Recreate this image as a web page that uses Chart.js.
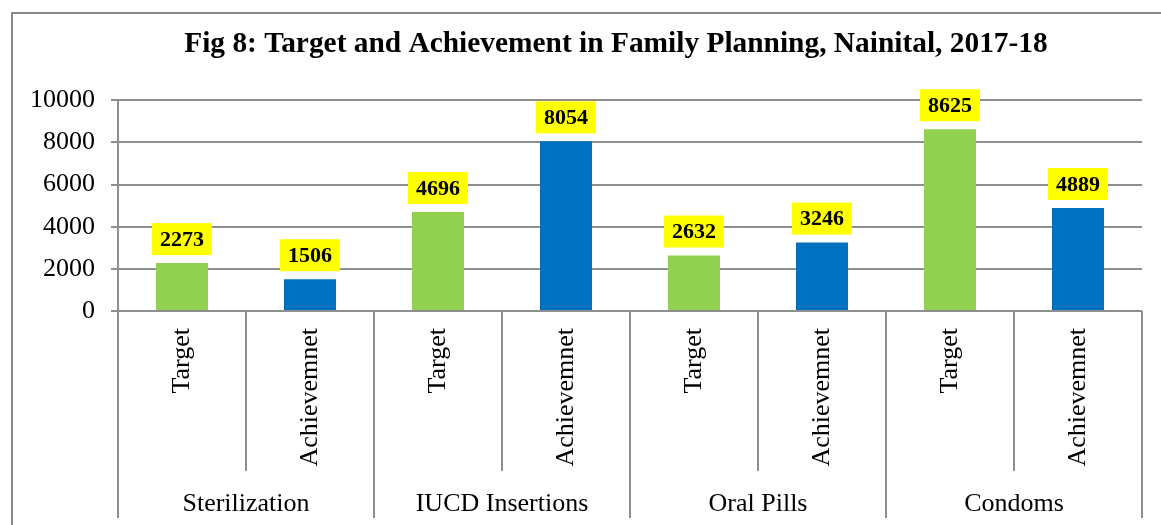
<!DOCTYPE html>
<html><head><meta charset="utf-8">
<script src="https://cdn.jsdelivr.net/npm/chart.js@4"></script>
<style>html,body{margin:0;padding:0;background:#fff;overflow:hidden}canvas{display:block}</style>
</head><body>
<canvas id="c" width="1161" height="525"></canvas>
<script>
const groups = ['Sterilization', 'IUCD Insertions', 'Oral Pills', 'Condoms'];
const subLabels = ['Target', 'Achievemnet'];
const targetValues = [2273, 4696, 2632, 8625];
const achievementValues = [1506, 8054, 3246, 4889];
const yTicks = [0, 2000, 4000, 6000, 8000, 10000];
const titleText = 'Fig 8: Target and Achievement in Family Planning, Nainital, 2017-18';

const GREEN = '#92D050', BLUE = '#0070C0', GRID = '#8e8e8e';
const FONT = "'Liberation Serif', 'Times New Roman', serif";

const labels = [], values = [], colors = [], subOf = [], groupOf = [];
groups.forEach((g, i) => {
  labels.push(subLabels[0] + ' ' + g); values.push(targetValues[i]); colors.push(GREEN); subOf.push(0); groupOf.push(i);
  labels.push(subLabels[1] + ' ' + g); values.push(achievementValues[i]); colors.push(BLUE); subOf.push(1); groupOf.push(i);
});

const decor = {
  id: 'decor',
  afterLayout(chart) {
    const t = chart.titleBlock;
    if (t) { t.left = 90; t.right = 1142; t.width = t.right - t.left; }
  },
  beforeDraw(chart) {
    const ctx = chart.ctx;
    ctx.save();
    ctx.fillStyle = '#fff';
    ctx.fillRect(0, 0, chart.width, chart.height);
    ctx.strokeStyle = '#8a8a8a';
    ctx.lineWidth = 2;
    ctx.strokeRect(12, 13, 3000, 3000);
    ctx.restore();
  },
  afterDraw(chart) {
    const ctx = chart.ctx;
    const xs = chart.scales.x;
    const area = chart.chartArea;
    const n = labels.length;
    const slot = (area.right - area.left) / n;
    ctx.save();
    ctx.strokeStyle = GRID;
    ctx.lineWidth = 2;
    for (let i = 0; i <= n; i++) {
      const x = i < n ? xs.getPixelForValue(i) - slot / 2 : xs.getPixelForValue(n - 1) + slot / 2;
      const yEnd = (i % 2 === 0) ? 518 : 471;
      ctx.beginPath();
      ctx.moveTo(Math.round(x), area.bottom);
      ctx.lineTo(Math.round(x), yEnd);
      ctx.stroke();
    }
    ctx.fillStyle = '#000';
    ctx.font = '26px ' + FONT;
    for (let i = 0; i < n; i++) {
      const x = xs.getPixelForValue(i);
      ctx.save();
      ctx.translate(x, area.bottom + 17);
      ctx.rotate(-Math.PI / 2);
      ctx.textAlign = 'right';
      ctx.textBaseline = 'middle';
      ctx.fillText(subLabels[subOf[i]], 0, 0);
      ctx.restore();
    }
    ctx.textAlign = 'center';
    ctx.textBaseline = 'middle';
    groups.forEach((g, gi) => {
      const x = (xs.getPixelForValue(gi * 2) + xs.getPixelForValue(gi * 2 + 1)) / 2;
      ctx.fillText(g, x, 504);
    });
    const meta = chart.getDatasetMeta(0);
    ctx.font = 'bold 22px ' + FONT;
    meta.data.forEach((bar, i) => {
      const txt = String(values[i]);
      const w = ctx.measureText(txt).width + 16;
      const h = 32;
      const bottom = bar.y - 8;
      ctx.fillStyle = '#FFFF00';
      ctx.fillRect(bar.x - w / 2, bottom - h, w, h);
      ctx.fillStyle = '#000';
      ctx.fillText(txt, bar.x, bottom - h / 2 + 1);
    });
    ctx.restore();
  }
};

new Chart(document.getElementById('c'), {
  type: 'bar',
  data: {
    labels: labels,
    datasets: [{ data: values, backgroundColor: colors, borderWidth: 0,
      barPercentage: 0.406, categoryPercentage: 1.0 }]
  },
  options: {
    responsive: false,
    animation: false,
    devicePixelRatio: 1,
    layout: { padding: { left: 20, right: 19, top: 27, bottom: 214 } },
    plugins: {
      legend: { display: false },
      tooltip: { enabled: false },
      title: {
        display: true, text: titleText, color: '#000',
        font: { family: FONT, size: 29.4, weight: 'bold', lineHeight: 1.2 },
        padding: { top: 0, bottom: 38 }
      }
    },
    scales: {
      x: { display: false },
      y: {
        min: 0, max: 10000,
        afterFit(s) { s.width = 98; },
        afterBuildTicks(s) { s.ticks = yTicks.map(v => ({ value: v })); },
        grid: { color: GRID, lineWidth: 2, tickLength: 7, drawTicks: true, tickColor: GRID },
        border: { display: true, color: GRID, width: 2 },
        ticks: { color: '#000', padding: 16, font: { family: FONT, size: 26 },
          callback: v => String(v) }
      }
    }
  },
  plugins: [decor]
});
</script>
</body></html>
